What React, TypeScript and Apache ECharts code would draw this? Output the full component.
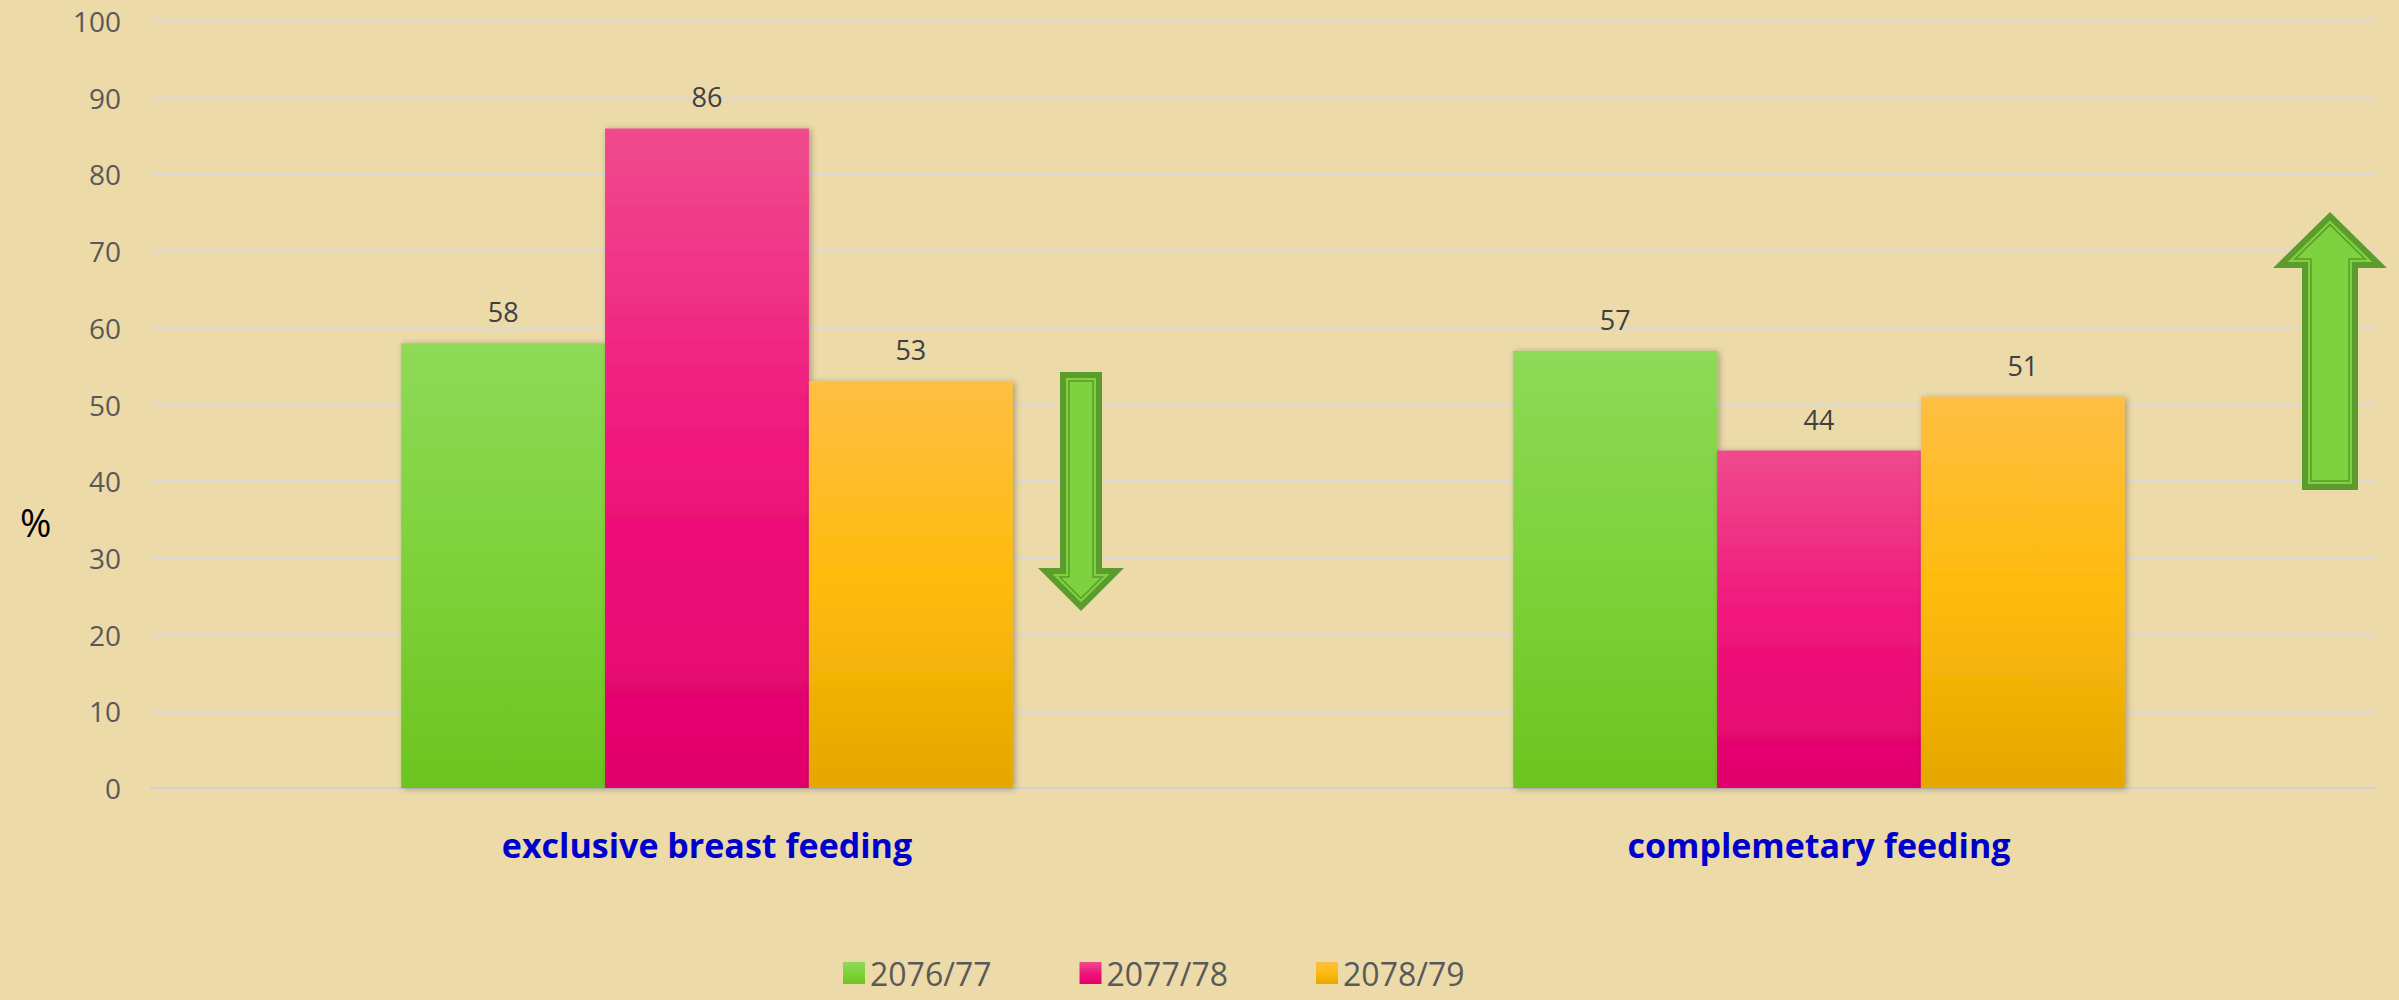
import React, { useEffect, useRef } from "react";
import * as echarts from "echarts";

const categories = ["exclusive breast feeding", "complemetary feeding"];
const seriesNames = ["2076/77", "2077/78", "2078/79"];
const values2076 = [58, 57];
const values2077 = [86, 44];
const values2078 = [53, 51];
const yTicks = { min: 0, max: 100, interval: 10 };

const gradients = [
  ["#8ED958", "#7ED23A", "#6CC420"],
  ["#EF4B8D", "#F0157C", "#E1006B"],
  ["#FEBF42", "#FFBB0C", "#E5A700"],
];

function grad(c: string[]) {
  return new echarts.graphic.LinearGradient(0, 0, 0, 1, [
    { offset: 0, color: c[0] },
    { offset: 0.5, color: c[1] },
    { offset: 1, color: c[2] },
  ]);
}

// offset a polygon inward by d (miter join)
function inset(pts: number[][], d: number): number[][] {
  const n = pts.length;
  let area = 0;
  for (let i = 0; i < n; i++) {
    const a = pts[i], b = pts[(i + 1) % n];
    area += a[0] * b[1] - b[0] * a[1];
  }
  const s = area > 0 ? 1 : -1;
  const res: number[][] = [];
  for (let i = 0; i < n; i++) {
    const p = pts[i];
    const prev = pts[(i - 1 + n) % n];
    const next = pts[(i + 1) % n];
    const e1 = [p[0] - prev[0], p[1] - prev[1]];
    const e2 = [next[0] - p[0], next[1] - p[1]];
    const l1 = Math.hypot(e1[0], e1[1]);
    const l2 = Math.hypot(e2[0], e2[1]);
    const n1 = [(-e1[1] / l1) * s, (e1[0] / l1) * s];
    const n2 = [(-e2[1] / l2) * s, (e2[0] / l2) * s];
    const dot = n1[0] * n2[0] + n1[1] * n2[1];
    const k = d / (1 + dot);
    res.push([p[0] + (n1[0] + n2[0]) * k, p[1] + (n1[1] + n2[1]) * k]);
  }
  return res;
}

function arrowPts(cx: number, shaftHalf: number, headHalf: number, yBase: number, yHead: number, yTip: number) {
  return [
    [cx - shaftHalf, yBase],
    [cx + shaftHalf, yBase],
    [cx + shaftHalf, yHead],
    [cx + headHalf, yHead],
    [cx, yTip],
    [cx - headHalf, yHead],
    [cx - shaftHalf, yHead],
  ];
}

function arrowGraphics(pts: number[][]) {
  const dark = "#5B9C2C";
  const light = "#7ED13F";
  return [
    { type: "polygon", shape: { points: pts }, style: { fill: dark }, z: 100 },
    { type: "polygon", shape: { points: inset(pts, 6) }, style: { fill: light }, z: 101 },
    { type: "polygon", shape: { points: inset(pts, 9) }, style: { fill: "none", stroke: dark, lineWidth: 1.5 }, z: 102 },
  ];
}

export default function App() {
  const ref = useRef<HTMLDivElement>(null);
  useEffect(() => {
    if (!ref.current) return;
    const chart = echarts.init(ref.current, null, { renderer: "svg" });
    const data = [values2076, values2077, values2078];
    const downArrow = arrowPts(1081, 21, 43, 372, 568, 611);
    const upArrow = arrowPts(2330, 28, 57, 490, 268, 212);
    chart.setOption({
      animation: false,
      backgroundColor: "#ECDAA9",
      textStyle: { fontFamily: "'Open Sans', sans-serif" },
      grid: { left: 151, right: 24, top: 21, bottom: 212, containLabel: false },
      legend: {
        left: 838,
        top: 951,
        itemWidth: 22,
        itemHeight: 22,
        itemGap: 88,
        icon: "rect",
        textStyle: { fontSize: 32, lineHeight: 34, color: "#595959", padding: [0, 0, 0, 0] },
        data: seriesNames,
      },
      xAxis: {
        type: "category",
        data: categories,
        axisLine: { lineStyle: { color: "#CFCFCF", width: 2 } },
        axisTick: { show: false },
        axisLabel: { margin: 40, fontSize: 34, fontWeight: "bold", color: "#0000CC" },
      },
      yAxis: {
        type: "value",
        min: yTicks.min,
        max: yTicks.max,
        interval: yTicks.interval,
        axisLine: { show: false },
        axisTick: { show: false },
        splitLine: { lineStyle: { color: "#D9D9D9", width: 2 } },
        axisLabel: { margin: 30, fontSize: 28, color: "#595959" },
      },
      series: seriesNames.map((name, i) => ({
        name,
        type: "bar",
        data: data[i],
        barGap: "0%",
        barCategoryGap: "45%",
        itemStyle: {
          color: grad(gradients[i]),
          shadowBlur: 6,
          shadowColor: "rgba(0,0,0,0.3)",
          shadowOffsetX: 2,
          shadowOffsetY: 1,
        },
        label: { show: true, position: "top", distance: 18, fontSize: 27, color: "#404040" },
      })),
      graphic: [
        {
          type: "text",
          left: 20,
          top: 503,
          style: { text: "%", fontSize: 38, fill: "#000000", fontFamily: "'Open Sans', sans-serif" },
        },
        ...arrowGraphics(downArrow),
        ...arrowGraphics(upArrow),
      ],
    });
    return () => chart.dispose();
  }, []);
  return (
    <div
      ref={ref}
      style={{ position: "absolute", left: 0, top: 0, width: 2399, height: 1000 }}
    />
  );
}
